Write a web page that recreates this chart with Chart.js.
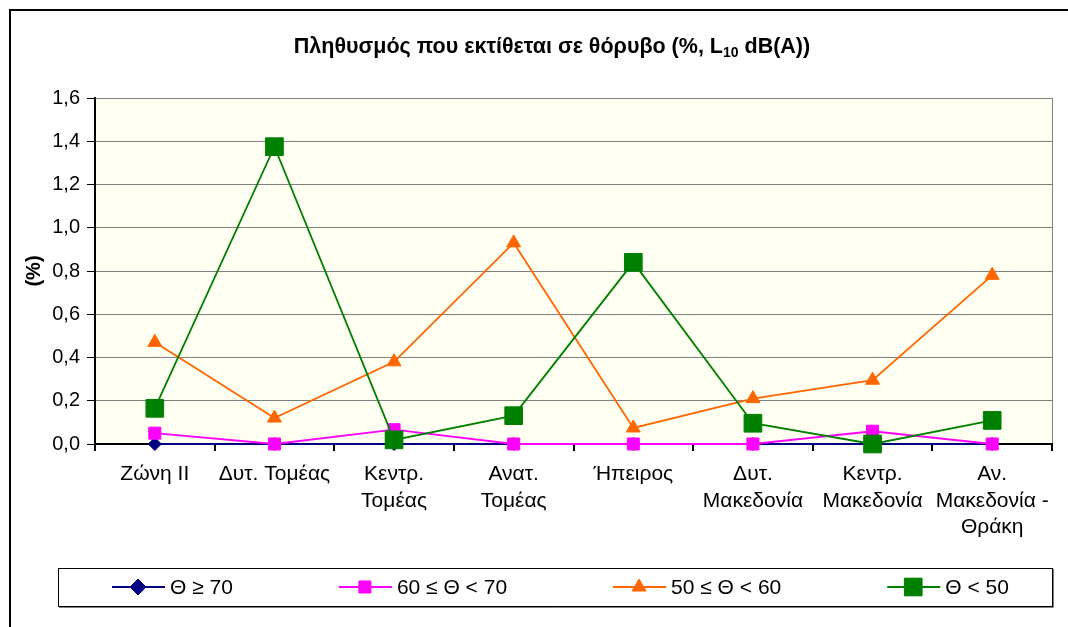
<!DOCTYPE html>
<html>
<head>
<meta charset="utf-8">
<script src="https://cdn.jsdelivr.net/npm/chart.js@4/dist/chart.umd.min.js"></script>
<style>
  html, body { margin: 0; padding: 0; background: #fff; }
  #wrap { width: 1068px; height: 627px; }
</style>
</head>
<body>
<div id="wrap"><canvas id="myChart" width="1068" height="627"></canvas></div>
<script>
var perioxes = [
  "Ζώνη ΙΙ",
  "Δυτ. Τομέας",
  ["Κεντρ.", "Τομέας"],
  ["Ανατ.", "Τομέας"],
  "Ήπειρος",
  ["Δυτ.", "Μακεδονία"],
  ["Κεντρ.", "Μακεδονία"],
  ["Αν.", "Μακεδονία -", "Θράκη"]
];
var onomata = ["Θ ≥ 70", "60 ≤ Θ < 70", "50 ≤ Θ < 60", "Θ < 50"];
var theta70 = [0, 0, 0, 0, 0, 0, 0, 0];
var theta60_70 = [0.05, 0, 0.066, 0, 0, 0, 0.059, 0];
var theta50_60 = [0.47, 0.12, 0.38, 0.93, 0.074, 0.21, 0.295, 0.78];
var theta50 = [0.165, 1.375, 0.019, 0.131, 0.84, 0.096, 0, 0.109];
var yTicks = [0, 0.2, 0.4, 0.6, 0.8, 1.0, 1.2, 1.4, 1.6];

var grammatoseira = "'Liberation Sans', Arial, sans-serif";
Chart.defaults.color = "#000";
Chart.defaults.font.family = grammatoseira;

// xromata kai markers gia kathe seira
var styl = [
  { color: "#000080", point: "rectRot", r: 6.5 },
  { color: "#FF00FF", point: "rect", r: 8.5 },
  { color: "#FF6600", point: "triangle", r: 8 },
  { color: "#008000", point: "rect", r: 12.5 }
];
var seires = [theta70, theta60_70, theta50_60, theta50];

var datasets = [];
for (var i = 0; i < seires.length; i++) {
  datasets.push({
    label: onomata[i],
    data: seires[i],
    borderColor: styl[i].color,
    backgroundColor: styl[i].color,
    pointStyle: styl[i].point,
    pointRadius: styl[i].r,
    pointHoverRadius: styl[i].r,
    pointBorderWidth: 1,
    borderWidth: 1.8,
    tension: 0,
    clip: false,
    order: seires.length - i
  });
}

var fontoPlugin = {
  id: "fonto",
  beforeDraw: function (chart) {
    var ctx = chart.ctx;
    var a = chart.chartArea;
    ctx.save();
    ctx.fillStyle = "#fff";
    ctx.fillRect(0, 0, chart.width, chart.height);
    // exoteriko plaisio
    ctx.strokeStyle = "#000";
    ctx.lineWidth = 2;
    ctx.strokeRect(10, 10, chart.width + 20, chart.height + 20);
    // fonto perioxis
    ctx.fillStyle = "#FFFFF2";
    ctx.fillRect(a.left, a.top, a.right - a.left, a.bottom - a.top);
    ctx.strokeStyle = "#808080";
    ctx.lineWidth = 1;
    ctx.beginPath();
    ctx.moveTo(a.right + 0.5, a.top);
    ctx.lineTo(a.right + 0.5, a.bottom);
    ctx.stroke();
    ctx.restore();
  },
  afterDraw: function (chart) {
    var ctx = chart.ctx;
    ctx.save();
    // titlos me deikti
    var t1 = "Πληθυσμός που εκτίθεται σε θόρυβο (%, L";
    var t2 = "10";
    var t3 = " dB(A))";
    var fBig = "bold 21.5px " + grammatoseira;
    var fSmall = "bold 14px " + grammatoseira;
    ctx.font = fBig;
    var w1 = ctx.measureText(t1).width;
    var w3 = ctx.measureText(t3).width;
    ctx.font = fSmall;
    var w2 = ctx.measureText(t2).width;
    var x = 552 - (w1 + w2 + w3) / 2;
    var y = 53;
    ctx.fillStyle = "#000";
    ctx.textBaseline = "alphabetic";
    ctx.font = fBig;
    ctx.fillText(t1, x, y);
    ctx.font = fSmall;
    ctx.fillText(t2, x + w1, y + 4);
    ctx.font = fBig;
    ctx.fillText(t3, x + w1 + w2, y);

    // ypomnima
    ctx.strokeStyle = "#000";
    ctx.lineWidth = 1;
    ctx.strokeRect(58.5, 568.5, 994, 38);
    ctx.strokeStyle = "#808080";
    ctx.beginPath();
    ctx.moveTo(59, 607.5);
    ctx.lineTo(1053.5, 607.5);
    ctx.lineTo(1053.5, 569);
    ctx.stroke();
    ctx.font = "21px " + grammatoseira;
    ctx.textBaseline = "middle";
    var lx = 112;
    var ly = 587;
    chart.data.datasets.forEach(function (ds) {
      ctx.strokeStyle = ds.borderColor;
      ctx.fillStyle = ds.backgroundColor;
      ctx.lineWidth = 2;
      ctx.beginPath();
      ctx.moveTo(lx, ly);
      ctx.lineTo(lx + 53, ly);
      ctx.stroke();
      ctx.lineWidth = 1;
      Chart.helpers.drawPoint(ctx, {
        pointStyle: ds.pointStyle,
        radius: ds.pointStyle === "rectRot" ? 8 : ds.pointRadius,
        rotation: 0,
        borderWidth: 1
      }, lx + 26, ly);
      ctx.fillStyle = "#000";
      ctx.fillText(ds.label, lx + 58, ly + 1);
      lx += 58 + ctx.measureText(ds.label).width + 106;
    });
    ctx.restore();
  }
};

var ctx = document.getElementById("myChart");
var config = {
  type: "line",
  data: {
    labels: perioxes,
    datasets: datasets
  },
  options: {
    responsive: false,
    animation: false,
    events: [],
    layout: {
      padding: { left: 10, top: 98, right: 16, bottom: 0 }
    },
    plugins: {
      legend: { display: false },
      title: { display: false },
      tooltip: { enabled: false }
    },
    scales: {
      x: {
        offset: true,
        grid: {
          offset: true,
          drawOnChartArea: false,
          tickLength: 7,
          tickColor: "#000",
          lineWidth: 2
        },
        border: { color: "#000", width: 2 },
        ticks: {
          autoSkip: false,
          maxRotation: 0,
          padding: 10,
          font: { size: 21, lineHeight: 1.27 }
        },
        afterFit: function (scale) {
          scale.height = 183;
        }
      },
      y: {
        min: 0,
        max: 1.6,
        afterBuildTicks: function (scale) {
          scale.ticks = yTicks.map(function (v) { return { value: v }; });
        },
        grid: {
          color: "#808080",
          lineWidth: 1,
          tickLength: 8,
          tickColor: "#000"
        },
        border: { color: "#000", width: 2 },
        ticks: {
          padding: 7,
          font: { size: 20 },
          callback: function (v) {
            return Number(v).toFixed(1).replace(".", ",");
          }
        },
        title: {
          display: true,
          text: "(%)",
          font: { size: 20, weight: "bold" },
          padding: { top: 12, bottom: 0 }
        },
        afterFit: function (scale) {
          scale.width = 85;
        }
      }
    }
  },
  plugins: [fontoPlugin]
};

var myChart = new Chart(ctx, config);
</script>
</body>
</html>
